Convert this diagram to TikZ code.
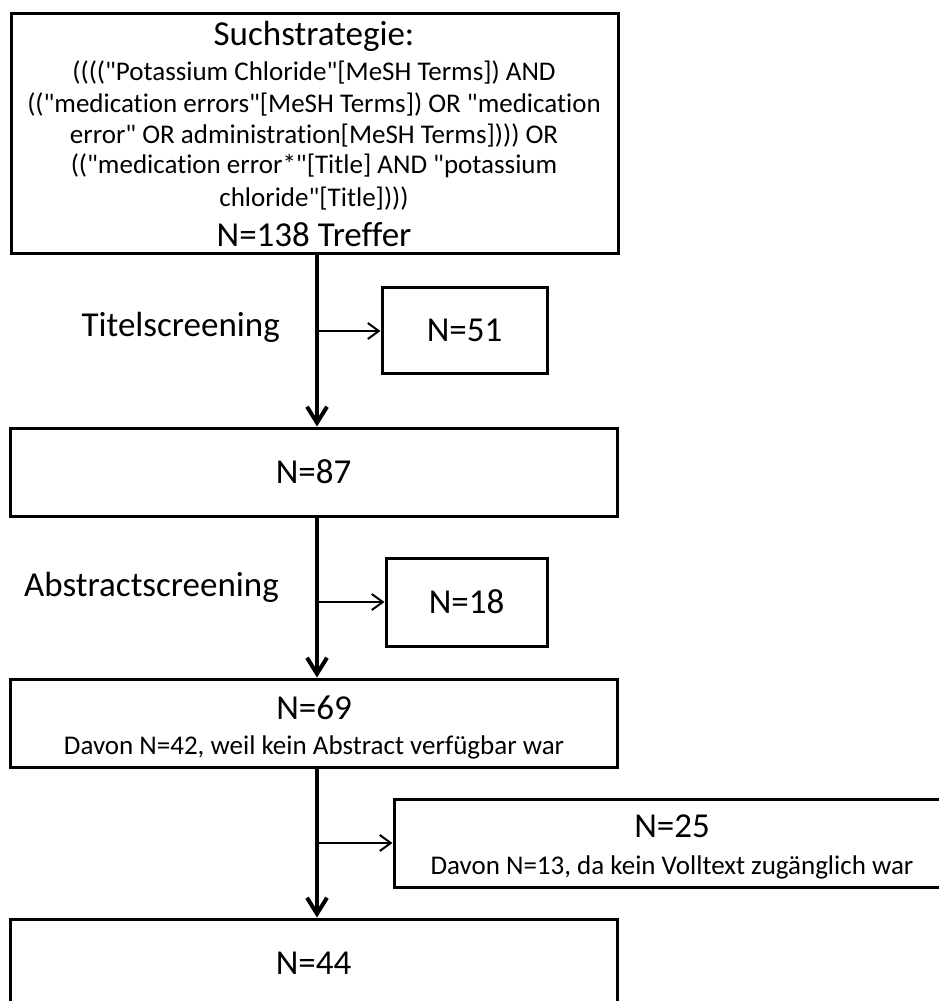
\documentclass[tikz,border=0pt]{standalone}
\usepackage{fontspec}
\setmainfont{Carlito}[Ligatures={NoCommon}]
\usetikzlibrary{arrows.meta}
\newcommand{\qd}{\textquotedbl}
\begin{document}
\begin{tikzpicture}[x=1pt,y=-1pt,
  box/.style={draw, line width=3pt, inner sep=0pt, rectangle},
  txt/.style={inner sep=0pt},
  bigfont/.style={font=\fontsize{35}{41}\selectfont},
  qfont/.style={font=\fontsize{27}{32}\selectfont},
  smallfont/.style={font=\fontsize{27}{32}\selectfont},
  mainarrow/.style={line width=4pt, -{Straight Barb[length=16pt,width=20pt]}},
  sidearrow/.style={line width=2pt, -{Straight Barb[length=11pt,width=16pt]}}
]
\useasboundingbox (0,0) rectangle (939,1001);
\clip (0,0) rectangle (939,1001);

% boxes
\node[box, minimum width=607pt, minimum height=240pt] (top) at (314.5,133) {};
\node[box, minimum width=165pt, minimum height=86pt, bigfont] (n51) at (464.5,330) {N=51};
\node[box, minimum width=607pt, minimum height=88pt, bigfont] (n87) at (313.5,472) {N=87};
\node[box, minimum width=161pt, minimum height=88pt, bigfont] (n18) at (466.5,602) {N=18};
\node[box, minimum width=607pt, minimum height=88pt] (n69) at (313.5,723) {};
\node[box, minimum width=556pt, minimum height=88pt] (n25) at (672,843) {};
\node[box, minimum width=607pt, minimum height=88pt, bigfont] (n44) at (313.5,963) {N=44};

% top box text
\node[txt, bigfont] (s0) at (314,36) {Suchstrategie:};
\node[txt, qfont] (s1) at (314,72) {((((\qd Potassium Chloride\qd[MeSH Terms]) AND};
\node[txt, qfont] (s2) at (314,104) {((\qd medication errors\qd[MeSH Terms]) OR \qd medication};
\node[txt, qfont] (s3) at (314,135) {error\qd{} OR administration[MeSH Terms]))) OR};
\node[txt, qfont] (s4) at (314,166) {((\qd medication error*\qd[Title] AND \qd potassium};
\node[txt, qfont] (s5) at (314,198) {chloride\qd[Title])))};
\node[txt, bigfont] (s6) at (314,235) {N=138 Treffer};

% n69 and n25 text
\node[txt, bigfont] (l69) at (314,708) {N=69};
\node[txt, smallfont] (d69) at (314,747) {Davon N=42, weil kein Abstract verfügbar war};
\node[txt, bigfont] (l25) at (672,826) {N=25};
\node[txt, smallfont] (d25) at (672,867) {Davon N=13, da kein Volltext zugänglich war};

% screening labels
\node[txt, bigfont, anchor=east] (ts) at (280,327) {Titelscreening};
\node[txt, bigfont, anchor=east] (as) at (279,587) {Abstractscreening};

% main connectors
\draw[mainarrow] (top.south -| 317,0) -- (n87.north -| 317,0);
\draw[mainarrow] (n87.south -| 317,0) -- (n69.north -| 317,0);
\draw[mainarrow] (n69.south -| 317,0) -- (n44.north -| 317,0);

% side branches
\coordinate (b1) at (317,331);
\coordinate (b2) at (317,602);
\coordinate (b3) at (317,843);
\draw[sidearrow] (b1) -- (n51.west |- b1);
\draw[sidearrow] (b2) -- (n18.west |- b2);
\draw[sidearrow] (b3) -- (n25.west |- b3);
\end{tikzpicture}
\end{document}
